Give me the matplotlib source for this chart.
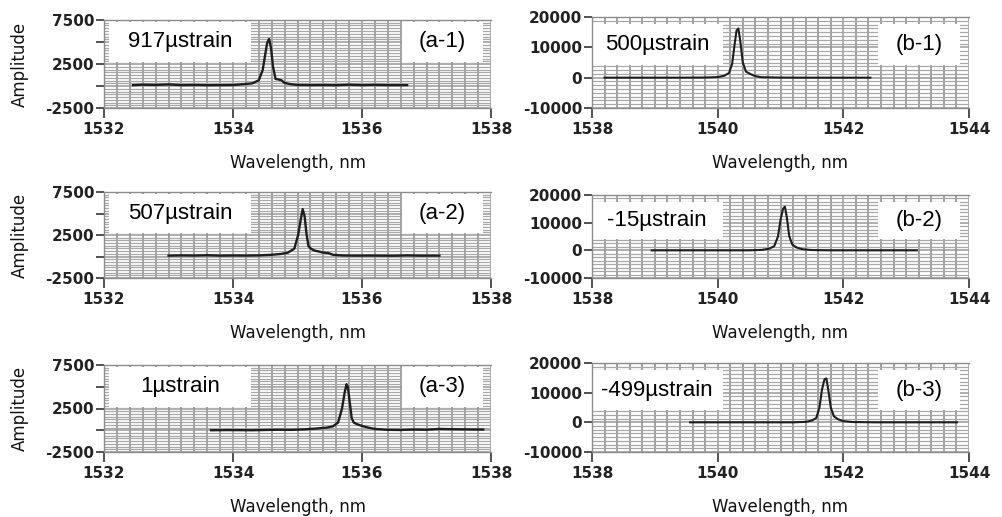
import numpy as np
import matplotlib.pyplot as plt
from matplotlib.patches import Rectangle
from matplotlib.ticker import MultipleLocator

# ---- data (wavelength in nm, amplitude in a.u.) ----
wl_a1 = [1532.45, 1532.6, 1532.8, 1533.0, 1533.2, 1533.4, 1533.6, 1533.8, 1534.0, 1534.15,
         1534.3, 1534.4, 1534.46, 1534.5, 1534.53, 1534.56, 1534.59, 1534.62, 1534.66, 1534.7,
         1534.75, 1534.8, 1534.9, 1535.0, 1535.2, 1535.4, 1535.6, 1535.8, 1536.0, 1536.2,
         1536.4, 1536.7]
amp_a1 = [100, 150, 120, 180, 100, 120, 90, 100, 110, 200,
          300, 650, 1800, 3600, 4900, 5350, 4300, 2200, 800, 750,
          650, 350, 200, 120, 100, 110, 90, 150, 100, 130,
          100, 100]

wl_a2 = [1533.0, 1533.2, 1533.4, 1533.6, 1533.8, 1534.0, 1534.2, 1534.4, 1534.6, 1534.75,
         1534.85, 1534.95, 1535.01, 1535.05, 1535.08, 1535.11, 1535.14, 1535.17, 1535.21, 1535.26,
         1535.32, 1535.4, 1535.48, 1535.55, 1535.7, 1535.9, 1536.1, 1536.3, 1536.5, 1536.7,
         1536.9, 1537.2]
amp_a2 = [100, 130, 110, 150, 100, 120, 110, 130, 200, 300,
          450, 900, 2500, 4300, 5500, 4700, 2600, 1200, 900, 700,
          600, 450, 400, 200, 120, 100, 110, 100, 90, 130,
          100, 100]

wl_a3 = [1533.66, 1533.9, 1534.1, 1534.3, 1534.5, 1534.7, 1534.9, 1535.1, 1535.3, 1535.45,
         1535.55, 1535.63, 1535.69, 1535.73, 1535.76, 1535.78, 1535.81, 1535.84, 1535.87, 1535.92,
         1536.0, 1536.1, 1536.2, 1536.4, 1536.6, 1536.8, 1537.0, 1537.2, 1537.4, 1537.6,
         1537.88]
amp_a3 = [0, 20, 10, 0, 30, 60, 40, 100, 200, 300,
          450, 900, 2500, 4300, 5300, 5000, 3200, 1400, 900, 700,
          500, 300, 150, 50, 30, 80, 60, 150, 120, 100,
          80]

wl_b1 = [1538.2, 1538.6, 1539.0, 1539.4, 1539.8, 1540.0, 1540.1, 1540.18, 1540.23, 1540.27,
         1540.3, 1540.33, 1540.36, 1540.4, 1540.45, 1540.52, 1540.6, 1540.7, 1541.0, 1541.4,
         1541.8, 1542.2, 1542.43]
amp_b1 = [0, 0, 0, 0, 50, 200, 600, 1500, 4500, 11000,
          15500, 16200, 12000, 5000, 2000, 1200, 500, 150, 30, 0,
          0, 0, 0]

wl_b2 = [1538.95, 1539.3, 1539.7, 1540.1, 1540.5, 1540.7, 1540.82, 1540.9, 1540.96, 1541.0,
         1541.04, 1541.07, 1541.1, 1541.14, 1541.19, 1541.26, 1541.35, 1541.5, 1541.8, 1542.2,
         1542.6, 1543.0, 1543.17]
amp_b2 = [0, 0, 0, 0, 0, 150, 600, 1500, 5000, 11000,
          15000, 15800, 12000, 5000, 2000, 1000, 400, 100, 0, 0,
          0, 0, 0]

wl_b3 = [1539.56, 1540.0, 1540.4, 1540.8, 1541.2, 1541.4, 1541.5, 1541.57, 1541.62, 1541.66,
         1541.7, 1541.73, 1541.76, 1541.8, 1541.85, 1541.92, 1542.0, 1542.15, 1542.5, 1542.9,
         1543.3, 1543.6, 1543.81]
amp_b3 = [0, 0, 0, 0, 0, 150, 600, 1500, 5000, 11000,
          14500, 14800, 11000, 5000, 2000, 1000, 400, 100, 0, 0,
          0, 0, 0]

strain_a = ['917\u00b5strain', '507\u00b5strain', '1\u00b5strain']
strain_b = ['500\u00b5strain', '-15\u00b5strain', '-499\u00b5strain']
tags_a = ['(a-1)', '(a-2)', '(a-3)']
tags_b = ['(b-1)', '(b-2)', '(b-3)']

xticks_a = [1532, 1534, 1536, 1538]
xticks_b = [1538, 1540, 1542, 1544]
yticks_a = [-2500, 0, 2500, 5000, 7500]
ylabels_a = ['-2500', '', '2500', '', '7500']
yticks_b = [-10000, 0, 10000, 20000]
ylabels_b = ['-10000', '0', '10000', '20000']

W, H = 1002, 517
fig = plt.figure(figsize=(W / 100, H / 100), dpi=100)

LINE = '#1e1e1e'
GRID = '#a8a8a8'


def make_axes(left, top, right, bottom):
    ax = fig.add_axes([left / W, 1 - bottom / H, (right - left) / W, (bottom - top) / H])
    return ax, bottom - top


def style(ax, hpx, xticks, yticks, ylabels, xminor, yminor, box_y, label_x, tag_x):
    ax.set_xlim(xticks[0], xticks[-1])
    ax.set_ylim(yticks[0], yticks[-1])
    ax.set_xticks(xticks)
    ax.set_xticklabels([str(t) for t in xticks])
    ax.set_yticks(yticks)
    ax.set_yticklabels(ylabels)
    ax.xaxis.set_minor_locator(MultipleLocator(xminor))
    ax.yaxis.set_minor_locator(MultipleLocator(yminor))
    ax.grid(which='minor', axis='x', color='#999999', lw=1.3, zorder=0)
    ax.grid(which='minor', axis='y', color=GRID, lw=0.9, zorder=0)
    ax.grid(which='major', axis='both', color='#999999', lw=1.1, zorder=0)
    ax.set_axisbelow(True)
    for s in ['top', 'left', 'bottom']:
        ax.spines[s].set_color('#8c8c8c')
        ax.spines[s].set_linewidth(1.0)
    ax.spines['right'].set_visible(False)
    ax.tick_params(which='major', axis='y', direction='out', length=6, width=1.2,
                   color='#333333', labelsize=11, pad=1)
    ax.tick_params(which='major', axis='x', direction='out', length=7, width=1.2,
                   color='#333333', labelsize=11, pad=3)
    ax.tick_params(which='minor', length=0)
    for lab in ax.get_xticklabels() + ax.get_yticklabels():
        lab.set_fontweight('bold')
        lab.set_color('#222222')
    ax.set_xlabel('Wavelength, nm', fontsize=12, color='#111111')
    ax.xaxis.set_label_coords(0.5, -46 / hpx)
    # white label boxes
    y0, y1 = box_y
    for (x0, x1) in (label_x, tag_x):
        ax.add_patch(Rectangle((x0, y0), x1 - x0, y1 - y0, transform=ax.transAxes,
                               facecolor='white', edgecolor='none', zorder=1.5))


left_rows = [(20, 108), (192, 278), (365, 452)]
right_rows = [(17, 108), (195, 278), (363, 452)]
a_data = [(wl_a1, amp_a1), (wl_a2, amp_a2), (wl_a3, amp_a3)]
b_data = [(wl_b1, amp_b1), (wl_b2, amp_b2), (wl_b3, amp_b3)]

for i in range(3):
    # left column (a)
    ax, hpx = make_axes(104, left_rows[i][0], 491, left_rows[i][1])
    style(ax, hpx, xticks_a, yticks_a, ylabels_a, 0.2, 312.5,
          (0.52, 0.98), (0.012, 0.38), (0.77, 0.98))
    ax.plot(a_data[i][0], a_data[i][1], color=LINE, lw=1.7, zorder=3)
    ax.text(0.196, 0.75, strain_a[i], transform=ax.transAxes, ha='center', va='center',
            fontsize=16, family='Liberation Sans', zorder=4)
    ax.text(0.875, 0.75, tags_a[i], transform=ax.transAxes, ha='center', va='center',
            fontsize=16, family='Liberation Sans', zorder=4)
    ax.set_ylabel('Amplitude', fontsize=12, color='#111111')
    ax.yaxis.set_label_coords(-0.194, 0.5)

    # right column (b)
    ax, hpx = make_axes(592, right_rows[i][0], 969, right_rows[i][1])
    style(ax, hpx, xticks_b, yticks_b, ylabels_b, 0.2, 1250,
          (0.47, 0.92), (-0.005, 0.348), (0.758, 0.976))
    ax.plot(b_data[i][0], b_data[i][1], color=LINE, lw=1.5, zorder=3)
    ax.text(0.172, 0.695, strain_b[i], transform=ax.transAxes, ha='center', va='center',
            fontsize=16, family='Liberation Sans', zorder=4)
    ax.text(0.867, 0.695, tags_b[i], transform=ax.transAxes, ha='center', va='center',
            fontsize=16, family='Liberation Sans', zorder=4)

fig.savefig('out.png', dpi=100)
